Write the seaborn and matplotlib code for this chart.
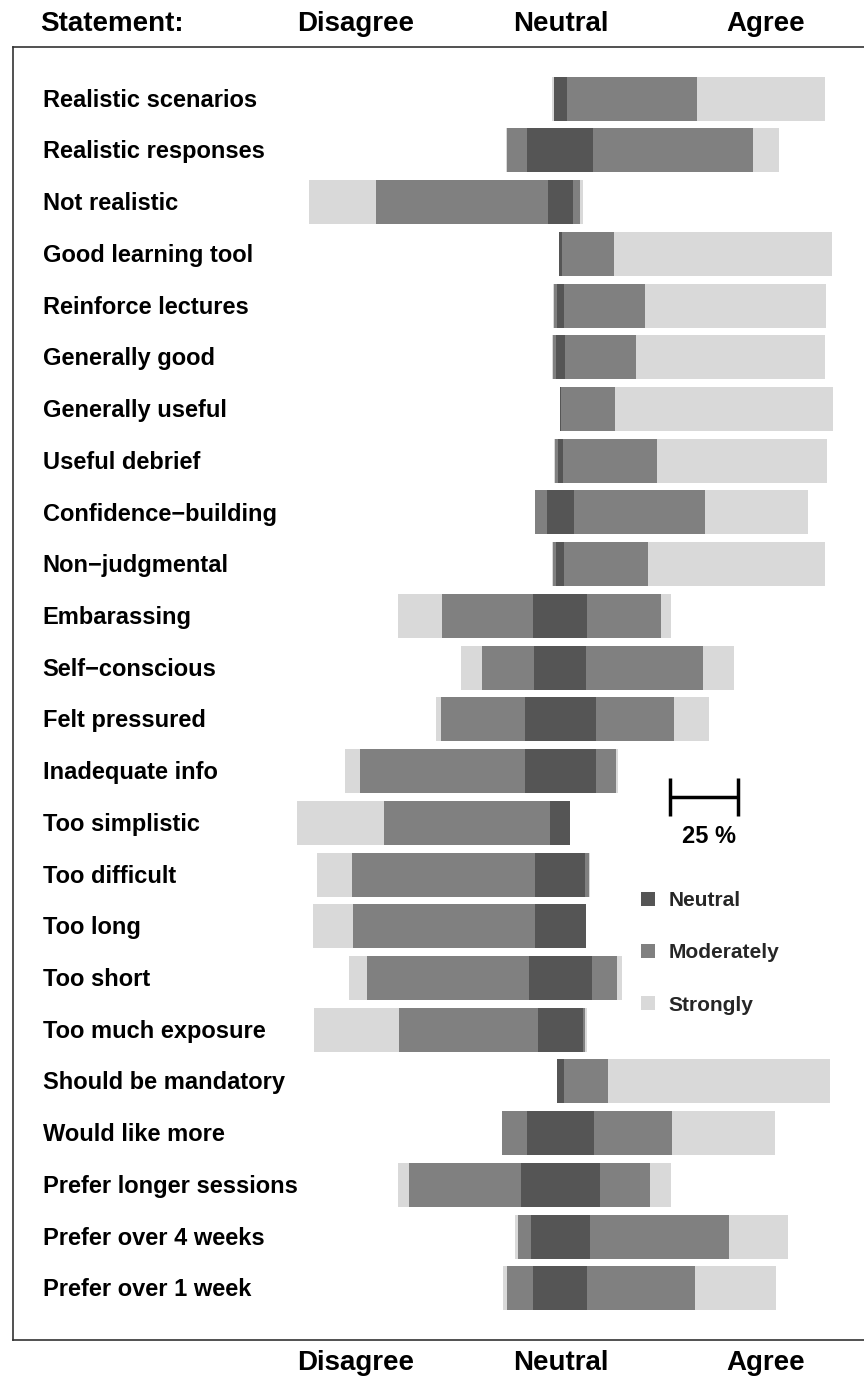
import pandas as pd
import seaborn as sns
from matplotlib import pyplot as plt
from matplotlib.patches import Patch

STATEMENTS = [
    "Realistic scenarios",
    "Realistic responses",
    "Not realistic",
    "Good learning tool",
    "Reinforce lectures",
    "Generally good",
    "Generally useful",
    "Useful debrief",
    "Confidence\u2212building",
    "Non\u2212judgmental",
    "Embarassing",
    "Self\u2212conscious",
    "Felt pressured",
    "Inadequate info",
    "Too simplistic",
    "Too difficult",
    "Too long",
    "Too short",
    "Too much exposure",
    "Should be mandatory",
    "Would like more",
    "Prefer longer sessions",
    "Prefer over 4 weeks",
    "Prefer over 1 week",
]

# percentages per statement
strongly_disagree = [0.7, 0.4, 24.5, 0.0, 0.3, 0.4, 0.0, 0.3, 0.0, 0.5, 16.2, 7.5,
                     1.9, 5.5, 31.8, 12.8, 14.6, 6.6, 31.0, 0.0, 0.0, 3.9, 1.1, 1.6]
moderately_disagree = [0.0, 7.4, 62.7, 0.0, 0.9, 1.1, 0.0, 1.2, 4.4, 1.2, 33.5, 19.4,
                       30.7, 60.3, 60.9, 67.2, 66.6, 59.4, 51.0, 0.0, 9.2, 41.1, 4.6, 9.7]
neutral = [5.0, 24.2, 9.4, 1.3, 2.8, 3.2, 0.6, 1.7, 10.1, 3.0, 19.8, 19.0,
           26.0, 26.0, 7.3, 18.3, 18.8, 23.2, 16.3, 2.7, 24.3, 28.8, 21.9, 19.8]
moderately_agree = [47.4, 58.4, 2.3, 19.1, 29.5, 26.1, 19.7, 34.6, 47.8, 30.6, 27.1, 42.8,
                    28.7, 7.2, 0.0, 1.2, 0.0, 9.1, 0.9, 16.2, 28.9, 18.4, 50.8, 39.3]
strongly_agree = [46.9, 9.6, 1.1, 79.6, 66.5, 69.2, 79.7, 62.2, 37.7, 64.7, 3.4, 11.3,
                  12.7, 1.0, 0.0, 0.5, 0.0, 1.7, 0.8, 81.1, 37.6, 7.8, 21.6, 29.6]

LIGHT = "#d9d9d9"
MID = "#808080"
DARK = "#555555"

# bars are drawn from zero and overlap: outer ends first, neutral last
parts = ["sd_end", "sa_end", "md_end", "ma_end", "n_neg", "n_pos"]
palette = {"sd_end": LIGHT, "sa_end": LIGHT, "md_end": MID, "ma_end": MID,
           "n_neg": DARK, "n_pos": DARK}

records = []
for i, s in enumerate(STATEMENTS):
    half = neutral[i] / 2
    ends = {
        "sd_end": -(half + moderately_disagree[i] + strongly_disagree[i]),
        "sa_end": half + moderately_agree[i] + strongly_agree[i],
        "md_end": -(half + moderately_disagree[i]),
        "ma_end": half + moderately_agree[i],
        "n_neg": -half,
        "n_pos": half,
    }
    for p in parts:
        records.append({"statement": s, "part": p, "value": ends[p]})
df = pd.DataFrame(records)

sns.set_style("white")
plt.rcParams["font.family"] = ["Liberation Sans", "DejaVu Sans"]

W, H = 864, 1376
fig = plt.figure(figsize=(W / 100, H / 100), dpi=100)
ax = fig.add_axes([13 / W, (H - 1340) / H, (W - 13) / W, (1340 - 47) / H])

sns.barplot(
    data=df,
    x="value",
    y="statement",
    hue="part",
    hue_order=parts,
    order=STATEMENTS,
    palette=palette,
    dodge=False,
    width=0.85,
    orient="h",
    saturation=1,
    linewidth=0,
    errorbar=None,
    legend=False,
    ax=ax,
)

ax.set_xlim(-200.5, 111.2)
ax.set_ylim(24, -1)
ax.set(xlabel=None, ylabel=None, xticks=[], yticks=[])
for side in ["left", "top", "bottom"]:
    ax.spines[side].set_color("#333333")
    ax.spines[side].set_linewidth(1.2)
ax.spines["right"].set_visible(False)

label_font = dict(fontsize=17, fontweight="bold", color="black")
head_font = dict(fontsize=20, fontweight="bold", color="black")
for i, s in enumerate(STATEMENTS):
    ax.text(-189.6, i + 0.03, s, ha="left", va="center", **label_font)

xt = ax.get_xaxis_transform()
ax.text(-190.7, 1.0178, "Statement:", transform=xt, ha="left", va="center", clip_on=False, **head_font)
for xpos, lab in [(-75, "Disagree"), (0, "Neutral"), (75, "Agree")]:
    ax.text(xpos, 1.0178, lab, transform=xt, ha="center", va="center", clip_on=False, **head_font)
    ax.text(xpos, -0.0178, lab, transform=xt, ha="center", va="center", clip_on=False, **head_font)

# 25 % scale bar
ax.errorbar(x=52.5, y=13.5, xerr=12.5, fmt="none", ecolor="black",
            elinewidth=2.5, capsize=14, capthick=2.5)
ax.text(54.5, 14.26, "25 %", ha="center", va="center", **label_font)

handles = [Patch(facecolor=c, edgecolor="none", label=l)
           for c, l in [(DARK, "Neutral"), (MID, "Moderately"), (LIGHT, "Strongly")]]
ax.legend(handles=handles, loc="upper left", bbox_to_anchor=(641 / W, 1 - 891 / H),
          bbox_transform=fig.transFigure, frameon=False,
          prop={"weight": "bold", "size": 15}, handlelength=0.67, handleheight=0.67,
          handletextpad=0.67, labelspacing=1.6, borderaxespad=0, borderpad=0)

fig.savefig("out.png", dpi=100)
